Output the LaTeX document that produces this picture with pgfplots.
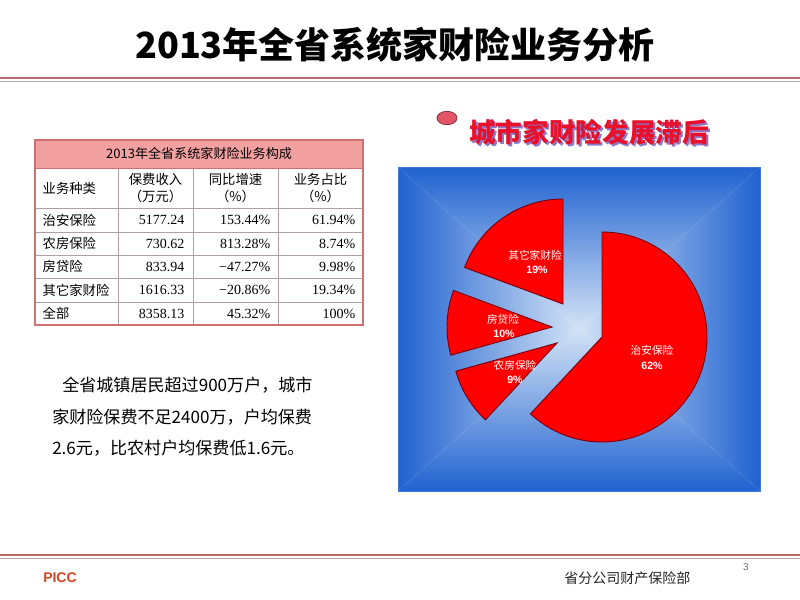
\documentclass[border=0pt]{standalone}
\usepackage{pgfplots}
\pgfplotsset{compat=1.18}
\usepackage{fontspec}
\setmainfont{Noto Sans CJK SC}
\newfontfamily\numf{Liberation Serif}
\newfontfamily\arialf{Liberation Sans}
\definecolor{lineRed}{HTML}{B86A6A}
\definecolor{lineGrey}{HTML}{A8A8A8}
\definecolor{hdrPink}{HTML}{F3A0A0}
\definecolor{tblBorder}{HTML}{D07070}
\definecolor{tblGrid}{HTML}{B0A0A0}
\definecolor{pieRed}{HTML}{FF0000}
\definecolor{pieEdge}{HTML}{7A0010}
\definecolor{boxC}{HTML}{D4E3F6}
\definecolor{boxM}{HTML}{86AAE4}
\definecolor{boxE}{HTML}{2062D0}
\definecolor{ttlRed}{HTML}{E8102A}
\definecolor{ttlShadow}{HTML}{8A7AC8}
\definecolor{bulRed}{HTML}{E25566}
\definecolor{piccRed}{HTML}{D8421E}
\begin{document}
\begin{tikzpicture}[x=0.75pt,y=-0.75pt]
\path[use as bounding box, fill=white] (0,0) rectangle (800,600);
% ---- slide title
\node[font=\fontsize{27}{30}\selectfont\bfseries] at (395,45) {2013年全省系统家财险业务分析};
\draw[lineRed, line width=1.5pt] (0,78) -- (800,78);
\draw[lineGrey, line width=1pt] (0,81.5) -- (800,81.5);
% ---- footer
\draw[lineRed, line width=1.5pt] (0,555) -- (800,555);
\draw[lineGrey, line width=1pt] (0,558.5) -- (800,558.5);
\node[font=\arialf\fontsize{10.5}{12}\selectfont\bfseries, text=piccRed, anchor=west, inner sep=0pt] at (43,578) {PICC};
\node[font=\fontsize{10.5}{12}\selectfont, anchor=west, inner sep=0pt, text=black!85] at (564,578) {省分公司财产保险部};
\node[font=\arialf\fontsize{7.5}{9}\selectfont, text=black!55] at (746,567) {3};
% ---- table
\fill[hdrPink] (35,140) rectangle (363,168);
\foreach \yy in {208,232,255,278,302} {\draw[tblGrid, line width=0.5pt] (35,\yy) -- (363,\yy);}
\foreach \xx in {118,193,278} {\draw[tblGrid, line width=0.5pt] (\xx,168) -- (\xx,325);}
\draw[tblBorder, line width=0.6pt] (35,168) -- (363,168);
\draw[tblBorder, line width=0.8pt] (35,140) rectangle (363,325);
\node[font=\fontsize{9.8}{11}\selectfont] at (199,154) {2013年全省系统家财险业务构成};
\begin{scope}[font=\fontsize{10}{12}\selectfont]
\node[anchor=west] at (38,188) {业务种类};
\node[align=center, font=\fontsize{10}{13}\selectfont] at (155.5,188) {保费收入\\（万元）};
\node[align=center, font=\fontsize{10}{13}\selectfont] at (235.5,188) {同比增速\\（\%）};
\node[align=center, font=\fontsize{10}{13}\selectfont] at (320.5,188) {业务占比\\（\%）};
\node[anchor=west] at (38,220) {治安保险};
\node[anchor=west] at (38,243.5) {农房保险};
\node[anchor=west] at (38,266.5) {房贷险};
\node[anchor=west] at (38,290) {其它家财险};
\node[anchor=west] at (38,313.5) {全部};
\end{scope}
\begin{scope}[font=\numf\fontsize{10.5}{12}\selectfont, anchor=east]
\node at (189,220) {5177.24};   \node at (275,220) {153.44\%};  \node at (360,220) {61.94\%};
\node at (189,243.5) {730.62};  \node at (275,243.5) {813.28\%}; \node at (360,243.5) {8.74\%};
\node at (189,266.5) {833.94};  \node at (275,266.5) {−47.27\%}; \node at (360,266.5) {9.98\%};
\node at (189,290) {1616.33};   \node at (275,290) {−20.86\%}; \node at (360,290) {19.34\%};
\node at (189,313.5) {8358.13}; \node at (275,313.5) {45.32\%};  \node at (360,313.5) {100\%};
\end{scope}
% ---- paragraph
\begin{scope}[font=\fontsize{12.8}{15}\selectfont, anchor=west, inner sep=0pt]
\node at (62,385) {全省城镇居民超过900万户，城市};
\node at (52,417) {家财险保费不足2400万，户均保费};
\node at (52,448) {2.6元，比农村户均保费低1.6元。};
\end{scope}
% ---- pie title
\draw[fill=bulRed, draw=bulRed!60!black, line width=0.6pt] (447,118) ellipse [x radius=7.5pt, y radius=5pt];
\node[font=\fontsize{20}{22}\selectfont\bfseries, text=ttlShadow] at (591,134) {城市家财险发展滞后};
\node[font=\fontsize{20}{22}\selectfont\bfseries, text=ttlRed] at (589,132) {城市家财险发展滞后};
% ---- pie angles from shares (%)
\pgfmathsetmacro\aA{90}
\pgfmathsetmacro\aB{90-61.94*3.6}
\pgfmathsetmacro\aC{\aB-8.74*3.6}
\pgfmathsetmacro\aD{\aC-9.98*3.6}
\pgfmathsetmacro\aE{\aD-19.34*3.6}
\begin{axis}[at={(0,0)}, anchor=north west, scale only axis,
  width=600pt, height=450pt, xmin=0, xmax=800, ymin=-600, ymax=0,
  hide axis, clip=false]
% rectangular (pyramid) gradient panel
\shade[top color=boxE, middle color=boxM, bottom color=boxC, shading angle=0] (axis cs:398,-167) -- (axis cs:760,-167) -- (axis cs:579,-329) -- cycle;
\shade[top color=boxC, middle color=boxM, bottom color=boxE] (axis cs:398,-491) -- (axis cs:760,-491) -- (axis cs:579,-329) -- cycle;
\shade[left color=boxE, middle color=boxM, right color=boxC] (axis cs:398,-167) -- (axis cs:398,-491) -- (axis cs:579,-329) -- cycle;
\shade[left color=boxC, middle color=boxM, right color=boxE] (axis cs:760,-167) -- (axis cs:760,-491) -- (axis cs:579,-329) -- cycle;
\draw[boxE!85!white, line width=0.6pt] (axis cs:398,-491) rectangle (axis cs:760,-167);
% 治安保险 61.94
\filldraw[fill=pieRed, draw=pieEdge, line width=0.7pt] (axis cs:602,-337) -- ++(\aA:78.75pt) arc[start angle=\aA, end angle=\aB, radius=78.75pt] -- cycle;
% 农房保险 8.74
\filldraw[fill=pieRed, draw=pieEdge, line width=0.7pt] (axis cs:557,-343) -- ++(\aB:78.75pt) arc[start angle=\aB, end angle=\aC, radius=78.75pt] -- cycle;
% 房贷险 9.98
\filldraw[fill=pieRed, draw=pieEdge, line width=0.7pt] (axis cs:552,-327) -- ++(\aC:78.75pt) arc[start angle=\aC, end angle=\aD, radius=78.75pt] -- cycle;
% 其它家财险 19.34
\filldraw[fill=pieRed, draw=pieEdge, line width=0.7pt] (axis cs:563,-304) -- ++(\aD:78.75pt) arc[start angle=\aD, end angle=\aE, radius=78.75pt] -- cycle;
\node[white, font=\fontsize{8}{9}\selectfont] at (axis cs:652,-350) {治安保险};
\node[white, font=\arialf\fontsize{8}{9}\selectfont\bfseries] at (axis cs:652,-366) {62\%};
\node[white, font=\fontsize{8}{9}\selectfont] at (axis cs:535,-255) {其它家财险};
\node[white, font=\arialf\fontsize{8}{9}\selectfont\bfseries] at (axis cs:537,-270) {19\%};
\node[white, font=\fontsize{8}{9}\selectfont] at (axis cs:503,-319) {房贷险};
\node[white, font=\arialf\fontsize{8}{9}\selectfont\bfseries] at (axis cs:504,-334) {10\%};
\node[white, font=\fontsize{8}{9}\selectfont] at (axis cs:515,-365) {农房保险};
\node[white, font=\arialf\fontsize{8}{9}\selectfont\bfseries] at (axis cs:515,-380) {9\%};
\end{axis}
\end{tikzpicture}
\end{document}
